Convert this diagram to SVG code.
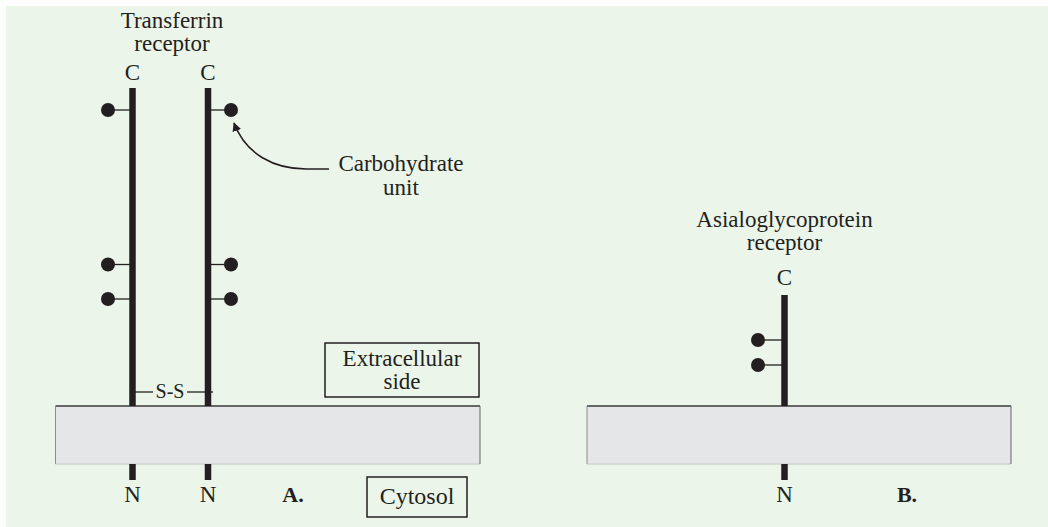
<svg xmlns="http://www.w3.org/2000/svg" width="1048" height="527" viewBox="0 0 1048 527">
<defs>
<style>
text{font-family:"Liberation Serif","Times New Roman",serif;font-size:23px;fill:#231f20;text-anchor:middle}
.b{font-weight:bold}
.strand{stroke:#231f20;stroke-width:6.5;fill:none}
.stem{stroke:#231f20;stroke-width:1.3}
.dot{fill:#231f20}
.box{fill:none;stroke:#231f20;stroke-width:1.5}
.mem{fill:#e5e6e8}
</style>
<marker id="ah" viewBox="0 0 10 10" refX="9" refY="5" markerWidth="9" markerHeight="9" markerUnits="userSpaceOnUse" orient="auto"><path d="M0,0 L10,5 L0,10 Z" fill="#231f20"/></marker>
</defs>
<rect x="0" y="0" width="1048" height="527" fill="#ffffff"/>
<rect x="6" y="6" width="1042" height="521" fill="#ebf5e9"/>

<g id="membraneA">
<rect class="mem" x="55.5" y="406" width="424.5" height="58"/>
<line x1="55.5" y1="406" x2="480" y2="406" stroke="#3a3a3a" stroke-width="1.5"/>
<line x1="55.5" y1="406" x2="55.5" y2="464" stroke="#8a8f88" stroke-width="1"/>
<line x1="55.5" y1="464" x2="480" y2="464" stroke="#c2c4c0" stroke-width="1"/>
<line x1="480" y1="406" x2="480" y2="464" stroke="#666" stroke-width="1"/>
</g>
<g id="membraneB">
<rect class="mem" x="587" y="406" width="424" height="58"/>
<line x1="587" y1="406" x2="1011" y2="406" stroke="#3a3a3a" stroke-width="1.5"/>
<line x1="587" y1="406" x2="587" y2="464" stroke="#8a8f88" stroke-width="1"/>
<line x1="587" y1="464" x2="1011" y2="464" stroke="#c2c4c0" stroke-width="1"/>
<line x1="1011" y1="406" x2="1011" y2="464" stroke="#666" stroke-width="1"/>
</g>

<g id="transferrin-label">
<text x="172" y="28">Transferrin</text>
<text x="172" y="51">receptor</text>
</g>

<g id="strandA1">
<text x="132.5" y="80">C</text>
<line class="strand" x1="132.5" y1="88" x2="132.5" y2="406"/>
<line class="strand" x1="132.5" y1="464" x2="132.5" y2="480"/>
<line class="stem" x1="108" y1="110" x2="132" y2="110"/>
<circle class="dot" cx="108" cy="110" r="7"/>
<line class="stem" x1="108" y1="264.5" x2="132" y2="264.5"/>
<circle class="dot" cx="108" cy="264.5" r="7"/>
<line class="stem" x1="108" y1="299" x2="132" y2="299"/>
<circle class="dot" cx="108" cy="299" r="7"/>
<text x="132.5" y="502">N</text>
</g>

<g id="strandA2">
<text x="208" y="80">C</text>
<line class="strand" x1="208" y1="88" x2="208" y2="406"/>
<line class="strand" x1="208" y1="464" x2="208" y2="480"/>
<line class="stem" x1="208" y1="110" x2="231" y2="110"/>
<circle class="dot" cx="231" cy="110" r="7"/>
<line class="stem" x1="208" y1="264.5" x2="231" y2="264.5"/>
<circle class="dot" cx="231" cy="264.5" r="7"/>
<line class="stem" x1="208" y1="299" x2="231" y2="299"/>
<circle class="dot" cx="231" cy="299" r="7"/>
<text x="208" y="502">N</text>
</g>

<g id="disulfide">
<line class="stem" x1="133" y1="392" x2="153" y2="392"/>
<line class="stem" x1="187" y1="392" x2="213" y2="392"/>
<text x="170" y="398" style="font-size:20px">S-S</text>
</g>

<g id="carbohydrate-label">
<text x="401" y="171">Carbohydrate</text>
<text x="401" y="195">unit</text>
</g>

<g id="extracellular">
<rect class="box" x="325" y="343" width="154" height="54"/>
<text x="402" y="366">Extracellular</text>
<text x="402" y="389">side</text>
</g>

<g id="cytosol">
<rect class="box" x="367" y="477" width="100" height="40"/>
<text x="417" y="504" style="font-size:24px">Cytosol</text>
</g>

<g id="labelA"><text class="b" x="293" y="502" style="font-size:22px">A.</text></g>

<g id="asialo-label">
<text x="784.5" y="227">Asialoglycoprotein</text>
<text x="784.5" y="250">receptor</text>
</g>

<g id="strandB">
<text x="784.5" y="285">C</text>
<line class="strand" x1="784.5" y1="295" x2="784.5" y2="406"/>
<line class="strand" x1="784.5" y1="464" x2="784.5" y2="480"/>
<line class="stem" x1="758" y1="340" x2="784" y2="340"/>
<circle class="dot" cx="758" cy="340" r="7"/>
<line class="stem" x1="758" y1="365" x2="784" y2="365"/>
<circle class="dot" cx="758" cy="365" r="7"/>
<text x="784.5" y="502">N</text>
</g>

<g id="labelB"><text class="b" x="907" y="502" style="font-size:22px">B.</text></g>

<g id="connectors">
<path d="M329,169 L306,169 C275,169 246,155 234,123" fill="none" stroke="#231f20" stroke-width="1.6" marker-end="url(#ah)"/>
</g>
</svg>
